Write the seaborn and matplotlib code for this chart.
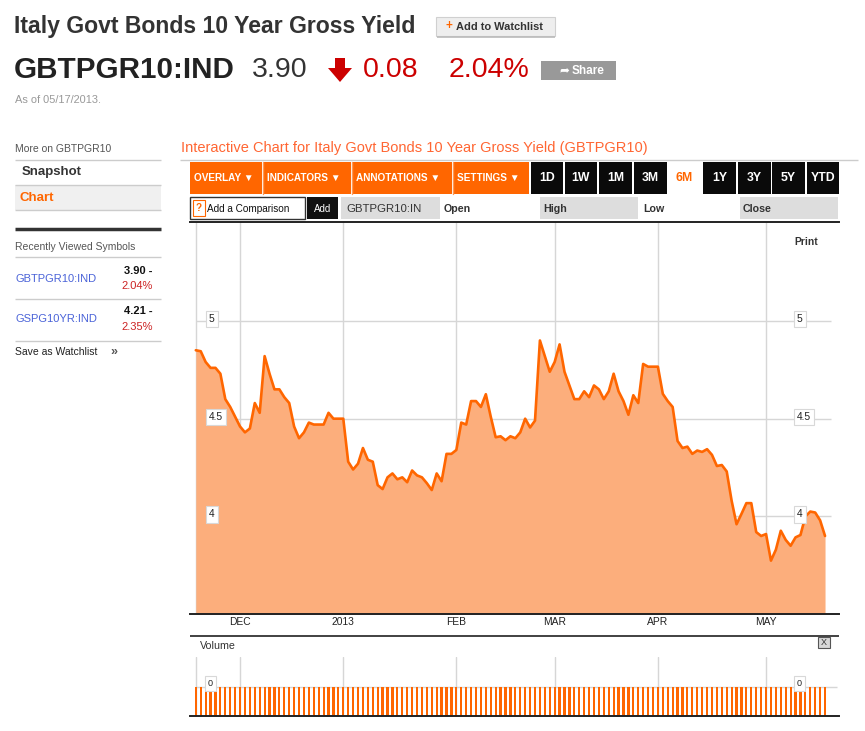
import numpy as np
import pandas as pd
import matplotlib
matplotlib.use("Agg")
import matplotlib.pyplot as plt
import matplotlib.transforms as mtransforms
from matplotlib.patches import Rectangle, Polygon
import seaborn as sns

# ---------------- data ----------------
yield_values = [
    4.85, 4.845, 4.79, 4.76, 4.76, 4.73, 4.60, 4.56, 4.51, 4.46,
    4.43, 4.45, 4.58, 4.53, 4.82, 4.73, 4.65, 4.65, 4.61, 4.58,
    4.46, 4.40, 4.43, 4.48, 4.47, 4.47, 4.47, 4.53, 4.50, 4.50,
    4.50, 4.28, 4.24, 4.27, 4.35, 4.29, 4.28, 4.16, 4.14, 4.20,
    4.22, 4.19, 4.20, 4.175, 4.235, 4.21, 4.20, 4.17, 4.135, 4.22,
    4.18, 4.32, 4.32, 4.34, 4.48, 4.47, 4.59, 4.59, 4.56, 4.625,
    4.51, 4.405, 4.41, 4.39, 4.41, 4.40, 4.43, 4.50, 4.455, 4.49,
    4.90, 4.82, 4.74, 4.79, 4.88, 4.74, 4.67, 4.60, 4.60, 4.64,
    4.61, 4.67, 4.65, 4.60, 4.64, 4.73, 4.64, 4.59, 4.52, 4.62,
    4.58, 4.78, 4.766, 4.766, 4.766, 4.627, 4.59, 4.56, 4.386, 4.35,
    4.357, 4.32, 4.337, 4.33, 4.344, 4.315, 4.258, 4.263, 4.23, 4.08,
    3.96, 4.013, 4.068, 4.068, 3.92, 3.90, 3.91, 3.774, 3.83, 3.927,
    3.88, 3.85, 3.893, 3.905, 4.00, 4.025, 4.02, 3.98, 3.90,
]
dates = pd.bdate_range("2012-11-20", "2013-05-17")
volume_values = [0] * len(dates)
month_labels = ["DEC", "2013", "FEB", "MAR", "APR", "MAY"]
month_starts = ["2012-12-03", "2013-01-01", "2013-02-01", "2013-03-01", "2013-04-01", "2013-05-01"]
ytick_values = [4, 4.5, 5]
ytick_labels = ["4", "4.5", "5"]
vol_tick_label = "0"

df = pd.DataFrame({"day": np.arange(len(dates)), "date": dates,
                   "yield": yield_values, "volume": volume_values})
month_pos = [int(np.searchsorted(dates, pd.Timestamp(d))) for d in month_starts]

# ---------------- figure ----------------
W, H = 865, 731
sns.set_theme(style="white")
plt.rcParams["font.family"] = ["Liberation Sans", "DejaVu Sans"]
fig = plt.figure(figsize=(W / 100, H / 100), dpi=100)
fig.patch.set_facecolor("white")

# page background axes in pixel coordinates
bg = fig.add_axes([0, 0, 1, 1], zorder=0)
bg.set_xlim(0, W)
bg.set_ylim(H, 0)
bg.axis("off")

FAM = ["Liberation Sans", "DejaVu Sans"]


def T(x, y, s, size, color="#333333", weight="normal", ha="left", va="center", ax=bg, **kw):
    ax.text(x, y, s, fontsize=size, color=color, fontweight=weight, ha=ha, va=va,
            family=FAM, **kw)


def R(x0, y0, x1, y1, fc, ec="none", lw=0.8, ax=bg, z=1):
    ax.add_patch(Rectangle((x0, y0), x1 - x0, y1 - y0, facecolor=fc, edgecolor=ec,
                           linewidth=lw, zorder=z))


def L(x0, x1, y, color="#cccccc", lw=1.0, ax=bg):
    ax.plot([x0, x1], [y, y], color=color, lw=lw, solid_capstyle="butt")


# ---- header ----
T(14, 27, "Italy Govt Bonds 10 Year Gross Yield", 16.6, "#333333", "bold")
R(436, 17, 555, 36, "#eeeeee", "#d0d0d0")
L(437, 555, 36.5, "#bbbbbb", 1.2)
T(446, 26.5, "+", 8.5, "#ff6600", "bold")
T(456, 26.5, "Add to Watchlist", 7.9, "#333333", "bold")

T(14, 70, "GBTPGR10:IND", 21.3, "#222222", "bold")
T(252, 70, "3.90", 20.5, "#333333")
bg.add_patch(Polygon([(335, 58), (345, 58), (345, 68), (352, 68), (340, 82),
                      (328, 68), (335, 68)], closed=True, facecolor="#cc0000",
                     edgecolor="none"))
T(363, 70, "0.08", 20.5, "#cc0000")
T(449, 70, "2.04%", 20.5, "#cc0000")
R(541, 61, 616, 80, "#999999")
T(559, 70.5, "\u27a6", 8.5, "white", "bold")
T(572, 70.5, "Share", 8.5, "white", "bold")
T(15, 100, "As of 05/17/2013.", 7.9, "#999999")

# ---- sidebar ----
T(15, 149, "More on GBTPGR10", 7.5, "#555555")
L(15, 161, 159.5)
T(22, 172, "Snapshot", 9.5, "#333333", "bold")
R(15, 185, 161, 210, "#f0f0f0")
L(15, 161, 185)
T(20, 198, "Chart", 9.5, "#ff6600", "bold")
L(15, 161, 210)
L(15, 161, 229, "#333333", 2.5)
T(15, 246.5, "Recently Viewed Symbols", 7.5, "#555555")
L(15, 161, 257)
T(15, 278.5, "GBTPGR10:IND", 8, "#4a63d8")
T(153, 270.5, "3.90 -", 8, "#111111", "bold", ha="right")
T(153, 286, "2.04%", 8, "#cc2222", ha="right")
L(15, 161, 298.5)
T(15, 319.5, "GSPG10YR:IND", 8, "#4a63d8")
T(153, 311.5, "4.21 -", 8, "#111111", "bold", ha="right")
T(153, 327.5, "2.35%", 8, "#cc2222", ha="right")
L(15, 161, 340.5)
T(15, 352, "Save as Watchlist", 7.5, "#222222")
T(110, 351.5, "\u00bb", 9, "#555555", "bold")

# ---- chart header and toolbar ----
T(181, 148, "Interactive Chart for Italy Govt Bonds 10 Year Gross Yield (GBTPGR10)", 10.5, "#ff6633")
L(180, 858, 159.5, "#cccccc")
orange_btns = [("OVERLAY \u25bc", 190, 262), ("INDICATORS \u25bc", 263, 351),
               ("ANNOTATIONS \u25bc", 352, 452), ("SETTINGS \u25bc", 453, 529)]
for lab, x0, x1 in orange_btns:
    R(x0, 162, x1, 194, "#ff6600")
    T(x0 + 4, 178, lab, 7.2, "white", "bold")
for xs in [262.5, 351.5, 452.5]:
    bg.plot([xs, xs], [162, 194], color="#ff9955", lw=1)
black_btns = [("1D", 531, 563), ("1W", 565, 597), ("1M", 599, 632), ("3M", 634, 667),
              ("1Y", 703, 736), ("3Y", 738, 771), ("5Y", 772, 805), ("YTD", 807, 839)]
for lab, x0, x1 in black_btns:
    R(x0, 162, x1, 194, "#0a0a0a")
    T((x0 + x1) / 2, 178, lab, 8.8, "white", "bold", ha="center")
T(684, 178, "6M", 8.8, "#ff6600", "bold", ha="center")

# comparison row
R(190, 197, 305, 219, "white", "#333333", 1.0)
R(193, 200, 205, 216, "white", "#ff6600", 0.8)
T(199, 208, "?", 7, "#ff6600", "bold", ha="center")
T(207, 208.5, "Add a Comparison", 7.2, "#111111")
R(307, 197, 338, 219, "#111111")
T(322.5, 208.5, "Add", 7, "white", ha="center")
R(341, 197, 440, 219, "#dddddd")
T(346, 208.5, "GBTPGR10:IN", 8.2, "#333333")
T(444, 208.5, "Open", 7.7, "#333333", "bold")
R(540, 197, 638, 219, "#dddddd")
T(543, 208.5, "High", 7.7, "#333333", "bold")
T(643, 208.5, "Low", 7.7, "#333333", "bold")
R(740, 197, 838, 219, "#dddddd")
T(743, 208.5, "Close", 7.7, "#333333", "bold")

# separator above volume panel
L(190, 839, 635.5, "#333333", 1.3)
T(200, 646, "Volume", 7.7, "#333333")
R(818, 637, 830, 648, "#d8d8d8", "#555555", 0.8, z=3)
T(824, 642.5, "X", 6.5, "#333333", ha="center")

# ---------------- main chart ----------------
x_lo, x_hi = -1.18, 130.84
y_lo, y_hi = 3.501, 5.506
ax = fig.add_axes([190 / W, 1 - 614 / H, (839 - 190) / W, (614 - 222) / H], zorder=2)
ax.set_facecolor("none")
ax.fill_between(df["day"], df["yield"], y_lo, color="#fcae7c", lw=0, zorder=2)
sns.lineplot(data=df, x="day", y="yield", ax=ax, color="#ff6600", lw=1.9, zorder=3)
ax.set_xlim(x_lo, x_hi)
ax.set_ylim(y_lo, y_hi)
grid_c = "#d6d6d6"
for p in [0] + month_pos:
    ax.axvline(p, color=grid_c, lw=1.0, zorder=1)
ax.hlines(ytick_values, 0, 129.2, color=grid_c, lw=1.0, zorder=1)
ax.set_xticks(month_pos)
ax.set_xticklabels(month_labels, fontsize=7.4, color="#222222", family=FAM)
ax.tick_params(axis="x", length=0, pad=2.5)
ax.set_yticks([])
ax.set_xlabel("")
ax.set_ylabel("")
for s in ["left", "right"]:
    ax.spines[s].set_visible(False)
for s in ["top", "bottom"]:
    ax.spines[s].set_visible(True)
    ax.spines[s].set_color("#222222")
    ax.spines[s].set_linewidth(1.4)

box = dict(boxstyle="square,pad=0.3", facecolor="white", edgecolor="#d8d8d8", lw=0.8)
tr = mtransforms.blended_transform_factory(ax.transAxes, ax.transData)
offset = mtransforms.ScaledTranslation(0, 2 / 100, fig.dpi_scale_trans)
for v, lab in zip(ytick_values, ytick_labels):
    ax.text((209 - 190) / 649, v, lab, transform=tr + offset, fontsize=7.4, color="#222222",
            ha="left", va="center", bbox=box, zorder=5, family=FAM)
    ax.text((797 - 190) / 649, v, lab, transform=tr + offset, fontsize=7.4, color="#222222",
            ha="left", va="center", bbox=box, zorder=5, family=FAM)
ax.text((794 - 190) / 649, 1 - (242 - 222) / 392, "Print", transform=ax.transAxes,
        fontsize=7.4, color="#333333", fontweight="bold", ha="left", va="center", family=FAM)

# ---------------- volume chart ----------------
vax = fig.add_axes([190 / W, 1 - 716 / H, (839 - 190) / W, (716 - 657) / H], zorder=2)
vax.set_facecolor("none")
v_lo, v_hi = -1.0, 1.0
vax.bar(df["day"], df["volume"] - v_lo, bottom=v_lo, width=0.45, color="#ff6600",
        lw=0, zorder=2)
vax.set_xlim(x_lo, x_hi)
vax.set_ylim(v_lo, v_hi)
for p in [0] + month_pos:
    vax.axvline(p, color=grid_c, lw=1.0, zorder=1)
vax.hlines([0], 0, 130.5, color=grid_c, lw=1.0, zorder=1)
vax.set_xticks([])
vax.set_yticks([])
for s in ["left", "right", "top"]:
    vax.spines[s].set_visible(False)
vax.spines["bottom"].set_color("#222222")
vax.spines["bottom"].set_linewidth(1.4)
trv = mtransforms.blended_transform_factory(vax.transAxes, vax.transData)
offv = mtransforms.ScaledTranslation(0, 3 / 100, fig.dpi_scale_trans)
for xp in [(208 - 190) / 649, (797 - 190) / 649]:
    vax.text(xp, 0, vol_tick_label, transform=trv + offv, fontsize=6.5, color="#222222",
             ha="left", va="center", bbox=box, zorder=5, family=FAM)

fig.savefig("out.png", dpi=100)
